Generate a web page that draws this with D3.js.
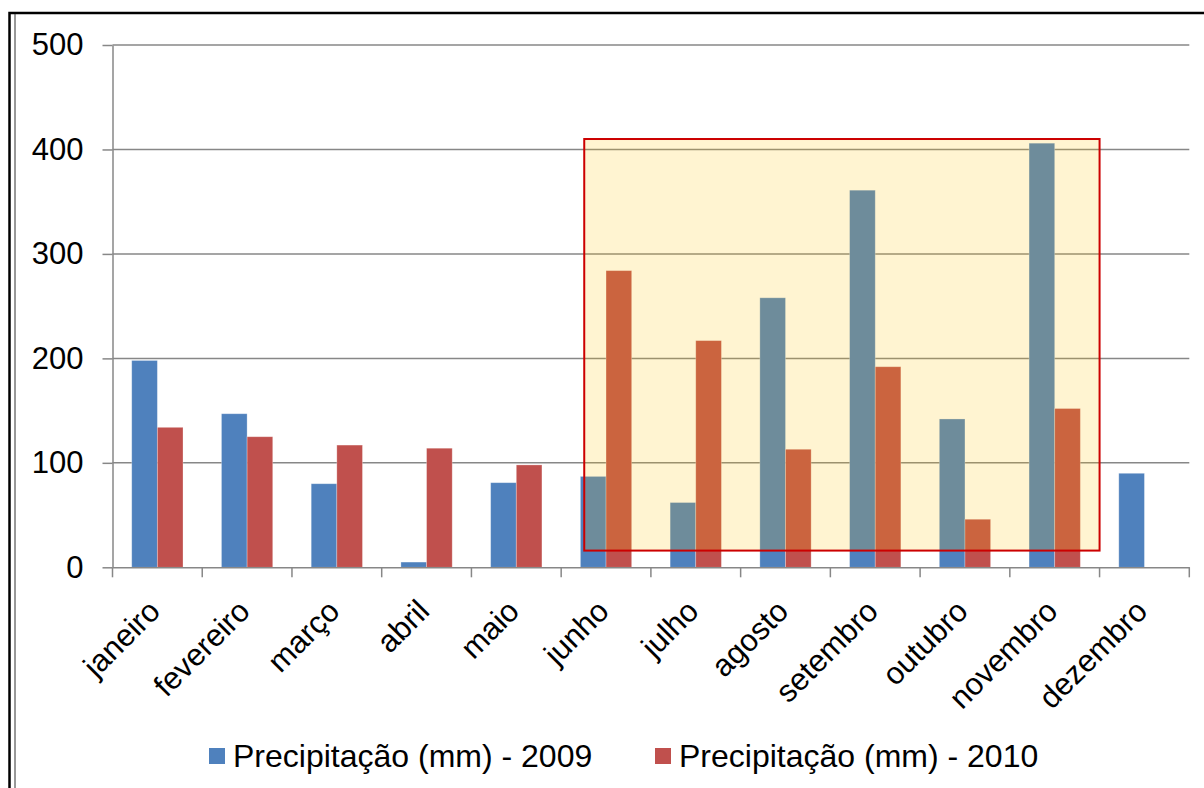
<!DOCTYPE html>
<html>
    <head>
        <title>Precipitação 2009 - 2010</title>
        <meta charset="UTF-8">
        <style>
            body {margin:0; background:#fff;}
            text {font-family: "Liberation Sans", Arial, sans-serif; fill:#000;}
            .grid line {stroke:#878787; stroke-width:1.5px;}
            .axis path, .axis line {stroke:#878787; stroke-width:1.5px; fill:none;}
        </style>
        <script src="https://cdn.jsdelivr.net/npm/d3@7"></script>
    </head>
    <body>
        <svg width="1204" height="788"></svg>

        <script>
            //... data
            var months = ["janeiro","fevereiro","março","abril","maio","junho","julho","agosto","setembro","outubro","novembro","dezembro"];
            var series = ["Precipitação (mm) - 2009", "Precipitação (mm) - 2010"];
            var rain2009 = [198, 147, 80, 5, 81, 87, 62, 258, 361, 142, 406, 90];
            var rain2010 = [134, 125, 117, 114, 98, 284, 217, 113, 192, 46, 152, null];
            var yTicks = [0, 100, 200, 300, 400, 500];
            var highlight = {from:"junho", to:"novembro", low:16, high:410};
            var colors = ["#4f81bd", "#c0504d"];

            var svg = d3.select("svg");
            var plotL = 112.5, plotR = 1189.3, plotT = 45, plotB = 567.3;

            var x = d3.scaleBand().domain(months).range([plotL, plotR]).padding(0);
            // excel gap width 150%
            var bw = x.bandwidth() / 3.5;
            var y = d3.scaleLinear().domain([0, 500]).range([plotB, plotT]);

            //... outer frame
            svg.append("rect").attr("x", 9.5).attr("y", 13).attr("width", 1220).attr("height", 800)
                .attr("fill", "none").attr("stroke", "#000").attr("stroke-width", 2.5);
            svg.append("line").attr("x1", 15).attr("x2", 15).attr("y1", 14).attr("y2", 800)
                .attr("stroke", "#333").attr("stroke-width", 1);

            //... gridlines
            svg.append("g").attr("class", "grid").selectAll("line")
                .data(yTicks.filter(d => d > 0))
                .enter().append("line")
                .attr("x1", plotL).attr("x2", plotR)
                .attr("y1", d => y(d)).attr("y2", d => y(d));

            //... bars
            var rows = months.map((m, i) => ({m: m, vals: [rain2009[i], rain2010[i]]}));
            var grp = svg.append("g").selectAll("g")
                .data(rows).enter().append("g")
                .attr("transform", d => "translate(" + (x(d.m) + 0.75 * bw) + ",0)");
            grp.selectAll("rect")
                .data(d => d.vals.map((v, k) => ({v: v, k: k})).filter(e => e.v != null))
                .enter().append("rect")
                .attr("x", e => e.k * bw)
                .attr("width", bw)
                .attr("y", e => y(e.v))
                .attr("height", e => plotB - y(e.v))
                .attr("fill", e => colors[e.k])
                .attr("stroke", "rgba(255,255,255,0.35)")
                .attr("stroke-width", 0.8);

            //... highlighted period
            var hx0 = x(highlight.from) + 0.9 * bw,
                hx1 = x(highlight.to) + x.bandwidth();
            svg.append("rect")
                .attr("x", hx0).attr("y", y(highlight.high))
                .attr("width", hx1 - hx0)
                .attr("height", y(highlight.low) - y(highlight.high))
                .attr("fill", "#ffc000").attr("fill-opacity", 0.18)
                .attr("stroke", "#cc0000").attr("stroke-width", 2);

            //... axes
            var yAxis = svg.append("g").attr("class", "axis")
                .attr("transform", "translate(" + plotL + ",0)")
                .call(d3.axisLeft(y).tickValues(yTicks).tickSize(10).tickSizeOuter(0).tickPadding(19));
            yAxis.selectAll("text").attr("font-size", "31px").attr("fill", "#000")
                .style("font-family", "Liberation Sans, Arial, sans-serif");

            var xAxis = svg.append("g").attr("class", "axis")
                .attr("transform", "translate(0," + plotB + ")")
                .call(d3.axisBottom(x).tickSize(0).tickSizeOuter(0).tickFormat(""));
            xAxis.selectAll(".edge").data(d3.range(months.length + 1))
                .enter().append("line").attr("class", "edge")
                .attr("x1", i => plotL + i * x.step()).attr("x2", i => plotL + i * x.step())
                .attr("y1", 0).attr("y2", 10);

            svg.append("g").selectAll("text")
                .data(months).enter().append("text")
                .attr("transform", d => "translate(" + (x(d) + x.bandwidth() / 2 - 3) + "," + (plotB + 38) + ") rotate(-45)")
                .attr("text-anchor", "end")
                .attr("dy", "0.35em")
                .attr("font-size", "31px")
                .text(d => d);

            //... legend
            var legX = [209, 655];
            var leg = svg.append("g").selectAll("g")
                .data(series).enter().append("g")
                .attr("transform", (d, i) => "translate(" + legX[i] + ",748)");
            leg.append("rect").attr("width", 16).attr("height", 16).attr("fill", (d, i) => colors[i]);
            leg.append("text").attr("x", 24).attr("y", 18.5).attr("font-size", "32px").text(d => d);
        </script>
    </body>
</html>
